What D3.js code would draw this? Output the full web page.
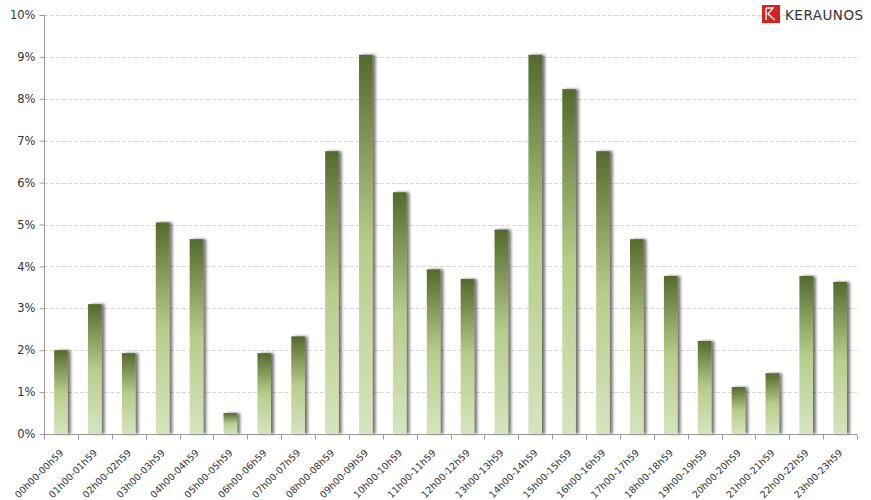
<!DOCTYPE html>
<html><head><meta charset="utf-8">
<script src="https://cdn.jsdelivr.net/npm/d3@7"></script>
<style>body{margin:0;background:#fff}svg{display:block;font-family:Tahoma,"DejaVu Sans",sans-serif}</style>
</head><body>
<script>
const categories = ["00h00-00h59","01h00-01h59","02h00-02h59","03h00-03h59","04h00-04h59","05h00-05h59","06h00-06h59","07h00-07h59","08h00-08h59","09h00-09h59","10h00-10h59","11h00-11h59","12h00-12h59","13h00-13h59","14h00-14h59","15h00-15h59","16h00-16h59","17h00-17h59","18h00-18h59","19h00-19h59","20h00-20h59","21h00-21h59","22h00-22h59","23h00-23h59"];
const values = [2.0,3.1,1.93,5.05,4.65,0.5,1.93,2.33,6.75,9.05,5.77,3.93,3.7,4.88,9.05,8.23,6.75,4.65,3.77,2.22,1.12,1.45,3.77,3.63];
const yTicks = [0,1,2,3,4,5,6,7,8,9,10];

const W = 871, H = 500;
const m = {left:44, right:14, top:15, bottom:66};
const svg = d3.select("body").append("svg").attr("width",W).attr("height",H);
const defs = svg.append("defs");
const g1 = defs.append("linearGradient").attr("id","barG").attr("x1",0).attr("y1",0).attr("x2",0).attr("y2",1);
g1.append("stop").attr("offset","0%").attr("stop-color","#546a2c");
g1.append("stop").attr("offset","50%").attr("stop-color","#b6cd8a");
g1.append("stop").attr("offset","100%").attr("stop-color","#d6e4bd");
const f = defs.append("filter").attr("id","sh").attr("x","-50%").attr("y","-10%").attr("width","200%").attr("height","120%");
f.append("feGaussianBlur").attr("in","SourceAlpha").attr("stdDeviation",1.6).attr("result","b");
f.append("feOffset").attr("in","b").attr("dx",2.5).attr("dy",0).attr("result","o");
f.append("feComponentTransfer").attr("in","o").attr("result","o2").append("feFuncA").attr("type","linear").attr("slope",0.55);
const fm = f.append("feMerge");
fm.append("feMergeNode").attr("in","o2");
fm.append("feMergeNode").attr("in","SourceGraphic");

const x = d3.scaleBand().domain(categories).range([m.left, W-m.right]).paddingInner(0.6).paddingOuter(0.3);
const xt = d3.scaleBand().domain(categories).range([m.left, W-m.right]);
const y = d3.scaleLinear().domain([0,10]).range([H-m.bottom, m.top]);

// gridlines
svg.append("g").selectAll("line").data(yTicks.filter(d=>d>0)).join("line")
  .attr("x1",m.left).attr("x2",W-m.right)
  .attr("y1",d=>Math.round(y(d))+0.5).attr("y2",d=>Math.round(y(d))+0.5)
  .attr("stroke","#d8d8d8").attr("stroke-dasharray","4,2");

// bars
svg.append("g").selectAll("rect").data(values).join("rect")
  .attr("x",(d,i)=>x(categories[i])).attr("width",x.bandwidth())
  .attr("y",d=>y(d)).attr("height",d=>y(0)-y(d))
  .attr("fill","url(#barG)").attr("filter","url(#sh)");

// y axis
const ya = svg.append("g").attr("transform",`translate(${m.left+0.5},0)`)
  .call(d3.axisLeft(y).tickValues(yTicks).tickFormat(d=>d+"%").tickSize(5).tickPadding(4));
ya.select(".domain").attr("stroke","#999").attr("d",`M0,${m.top}V${H-m.bottom}`);
ya.selectAll(".tick line").attr("stroke","#999");
ya.selectAll("text").attr("fill","#333").attr("font-size",11.5).attr("font-family","Tahoma,'DejaVu Sans',sans-serif");

// x axis
const xa = svg.append("g").attr("transform",`translate(0,${Math.round(y(0))+0.5})`);
xa.append("line").attr("x1",m.left).attr("x2",W-m.right).attr("stroke","#999");
const edges = categories.map(c=>xt(c)).concat([W-m.right]);
xa.selectAll(".tk").data(edges).join("line").attr("class","tk")
  .attr("x1",d=>Math.round(d)+0.5).attr("x2",d=>Math.round(d)+0.5).attr("y1",0).attr("y2",5).attr("stroke","#999");
xa.selectAll("text").data(categories).join("text")
  .attr("transform",d=>`translate(${xt(d)+xt.bandwidth()/2+3},${19}) rotate(-45)`)
  .attr("text-anchor","end").attr("font-size",9.5).attr("fill","#333")
  .attr("font-family","Tahoma,'DejaVu Sans',sans-serif").text(d=>d);

// logo
const lg = svg.append("g");
lg.append("rect").attr("x",762).attr("y",5).attr("width",18).attr("height",18).attr("fill","#d8211f");
lg.append("path").attr("d","M766,8V20M766,8H773L768,14L775,20").attr("fill","none").attr("stroke","#fff").attr("stroke-width",1.4);
lg.append("text").attr("x",785).attr("y",19.5).attr("font-size",13.5).attr("fill","#333")
  .attr("font-family","'DejaVu Sans',Verdana,sans-serif").attr("letter-spacing",0.5).text("KERAUNOS");
</script>
</body></html>
